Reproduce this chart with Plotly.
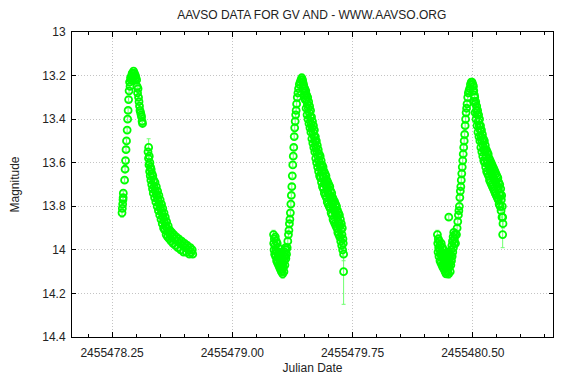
import plotly.graph_objects as go

# ---------------- data: (JD fraction of the day, magnitude, error) ----------------
c1_day = 2455478
c1_rise = [
    (0.312, 13.83, 0.02), (0.314, 13.81, 0.01), (0.316, 13.79, 0.01), (0.318, 13.77, 0.02),
    (0.319, 13.76, 0.01), (0.320, 13.74, 0.01),
    (0.328, 13.68, 0.01), (0.331, 13.63, 0.01), (0.334, 13.59, 0.01), (0.337, 13.54, 0.01),
    (0.340, 13.50, 0.01), (0.344, 13.45, 0.01), (0.347, 13.40, 0.01), (0.350, 13.36, 0.01),
    (0.353, 13.31, 0.01), (0.356, 13.27, 0.01), (0.359, 13.23, 0.01), (0.362, 13.25, 0.01),
    (0.365, 13.21, 0.01), (0.368, 13.22, 0.01), (0.372, 13.20, 0.01), (0.375, 13.19, 0.01),
    (0.378, 13.19, 0.01), (0.381, 13.21, 0.01), (0.384, 13.18, 0.01), (0.387, 13.20, 0.01),
    (0.390, 13.19, 0.01), (0.393, 13.22, 0.01), (0.396, 13.20, 0.01), (0.399, 13.21, 0.01),
    (0.403, 13.22, 0.01), (0.406, 13.25, 0.01),
    (0.409, 13.28, 0.01), (0.412, 13.26, 0.01), (0.415, 13.30, 0.01), (0.418, 13.32, 0.01),
    (0.421, 13.34, 0.01), (0.424, 13.36, 0.01), (0.428, 13.37, 0.01), (0.431, 13.38, 0.01),
    (0.434, 13.39, 0.01), (0.437, 13.41, 0.01), (0.440, 13.42, 0.01),
]
c1_decline = [
    (0.474, 13.55, 0.01), (0.478, 13.53, 0.04), (0.477, 13.58, 0.01),
    (0.480, 13.61, 0.01), (0.482, 13.57, 0.01), (0.484, 13.64, 0.01),
    (0.486, 13.60, 0.01), (0.488, 13.66, 0.01), (0.490, 13.62, 0.01),
    (0.492, 13.68, 0.01), (0.494, 13.63, 0.02), (0.497, 13.70, 0.01),
    (0.499, 13.65, 0.01), (0.502, 13.72, 0.01), (0.504, 13.66, 0.01),
    (0.507, 13.74, 0.01), (0.510, 13.68, 0.01), (0.512, 13.71, 0.03),
    (0.515, 13.76, 0.01), (0.518, 13.69, 0.01), (0.520, 13.73, 0.01),
    (0.523, 13.78, 0.01), (0.526, 13.71, 0.01), (0.528, 13.75, 0.01),
    (0.531, 13.80, 0.02), (0.534, 13.73, 0.01), (0.536, 13.77, 0.01),
    (0.539, 13.82, 0.01), (0.542, 13.75, 0.01), (0.544, 13.79, 0.01),
    (0.547, 13.84, 0.01), (0.550, 13.77, 0.01), (0.552, 13.81, 0.02),
    (0.555, 13.86, 0.01), (0.558, 13.79, 0.01), (0.560, 13.83, 0.01),
    (0.563, 13.88, 0.01), (0.566, 13.81, 0.01), (0.568, 13.85, 0.01),
    (0.571, 13.90, 0.01), (0.574, 13.83, 0.04), (0.576, 13.87, 0.01),
    (0.579, 13.91, 0.01), (0.582, 13.85, 0.01), (0.584, 13.89, 0.01),
    (0.587, 13.93, 0.01), (0.590, 13.87, 0.02), (0.592, 13.90, 0.01),
    (0.596, 13.94, 0.01), (0.600, 13.89, 0.01), (0.603, 13.92, 0.01),
    (0.607, 13.95, 0.01), (0.611, 13.91, 0.01), (0.614, 13.93, 0.01),
    (0.618, 13.96, 0.01), (0.622, 13.92, 0.01), (0.626, 13.94, 0.03),
    (0.630, 13.97, 0.01), (0.635, 13.93, 0.01), (0.640, 13.95, 0.01),
    (0.645, 13.98, 0.01), (0.650, 13.94, 0.01), (0.655, 13.96, 0.01),
    (0.660, 13.99, 0.01), (0.666, 13.95, 0.01), (0.672, 13.97, 0.02),
    (0.678, 14.00, 0.01), (0.684, 13.96, 0.01), (0.690, 13.98, 0.01),
    (0.696, 14.01, 0.01), (0.702, 13.97, 0.01), (0.708, 13.99, 0.01),
    (0.714, 14.01, 0.01), (0.720, 13.98, 0.01), (0.726, 14.00, 0.01),
    (0.732, 14.02, 0.01), (0.738, 13.99, 0.01), (0.744, 14.01, 0.01),
    (0.750, 14.00, 0.01), (0.753, 14.02, 0.01),
]

c2_day = 2455479
c2_min = [
    (0.257, 13.93, 0.02), (0.258, 13.97, 0.01), (0.260, 14.00, 0.01), (0.262, 13.95, 0.01),
    (0.264, 14.02, 0.01), (0.266, 13.98, 0.02), (0.268, 13.94, 0.01), (0.270, 14.03, 0.01),
    (0.272, 14.00, 0.01), (0.274, 13.96, 0.01), (0.276, 14.05, 0.01), (0.278, 14.01, 0.02),
    (0.280, 13.97, 0.01), (0.282, 14.06, 0.01), (0.284, 14.03, 0.01), (0.286, 13.99, 0.01),
    (0.288, 14.07, 0.01), (0.290, 14.04, 0.02), (0.292, 14.01, 0.01), (0.294, 14.08, 0.01),
    (0.296, 14.05, 0.01), (0.298, 14.02, 0.01), (0.300, 14.09, 0.02), (0.302, 14.06, 0.01),
    (0.304, 14.03, 0.01), (0.306, 14.10, 0.01), (0.308, 14.07, 0.01), (0.310, 14.04, 0.01),
    (0.312, 14.09, 0.01), (0.314, 14.11, 0.02), (0.316, 14.06, 0.01), (0.318, 14.08, 0.01),
    (0.320, 14.03, 0.01), (0.322, 14.10, 0.01), (0.324, 14.05, 0.01), (0.326, 14.01, 0.01),
    (0.328, 14.07, 0.01), (0.330, 14.03, 0.01), (0.332, 13.99, 0.01), (0.334, 14.04, 0.01),
    (0.336, 14.00, 0.01),
]
c2_rise = [
    (0.338, 14.02, 0.01), (0.342, 13.99, 0.01), (0.346, 13.96, 0.01), (0.350, 13.93, 0.01),
    (0.353, 13.91, 0.01), (0.356, 13.88, 0.01), (0.359, 13.86, 0.01), (0.362, 13.83, 0.01),
    (0.365, 13.79, 0.01), (0.368, 13.75, 0.01), (0.371, 13.71, 0.01), (0.374, 13.66, 0.01),
    (0.377, 13.61, 0.01), (0.380, 13.57, 0.01), (0.383, 13.53, 0.01), (0.386, 13.48, 0.01),
    (0.389, 13.44, 0.01), (0.392, 13.41, 0.01), (0.395, 13.38, 0.01), (0.398, 13.36, 0.01),
    (0.401, 13.33, 0.01), (0.405, 13.30, 0.01), (0.409, 13.28, 0.01), (0.413, 13.26, 0.01),
    (0.418, 13.24, 0.01), (0.423, 13.23, 0.01), (0.428, 13.22, 0.02), (0.433, 13.21, 0.01),
    (0.438, 13.22, 0.01),
]
c2_decline = [
    (0.440, 13.23, 0.01), (0.442, 13.26, 0.01), (0.444, 13.24, 0.01),
    (0.446, 13.25, 0.01), (0.448, 13.29, 0.01), (0.450, 13.27, 0.01),
    (0.452, 13.26, 0.01), (0.454, 13.31, 0.01), (0.456, 13.29, 0.01),
    (0.458, 13.27, 0.01), (0.460, 13.35, 0.01), (0.462, 13.31, 0.01),
    (0.464, 13.29, 0.01), (0.466, 13.38, 0.01), (0.468, 13.33, 0.01),
    (0.470, 13.30, 0.01), (0.472, 13.40, 0.01), (0.474, 13.35, 0.01),
    (0.476, 13.32, 0.01), (0.478, 13.42, 0.01), (0.480, 13.37, 0.01),
    (0.482, 13.34, 0.01), (0.484, 13.44, 0.01), (0.486, 13.39, 0.02),
    (0.488, 13.36, 0.01), (0.490, 13.46, 0.01), (0.492, 13.42, 0.01),
    (0.494, 13.39, 0.01), (0.496, 13.49, 0.01), (0.498, 13.44, 0.01),
    (0.500, 13.41, 0.01), (0.502, 13.51, 0.01), (0.504, 13.46, 0.01),
    (0.506, 13.43, 0.01), (0.508, 13.53, 0.02), (0.510, 13.48, 0.01),
    (0.512, 13.45, 0.01), (0.514, 13.55, 0.01), (0.516, 13.50, 0.01),
    (0.518, 13.48, 0.01), (0.520, 13.58, 0.01), (0.522, 13.53, 0.01),
    (0.524, 13.50, 0.02), (0.526, 13.60, 0.01), (0.528, 13.55, 0.01),
    (0.530, 13.52, 0.01), (0.532, 13.62, 0.01), (0.534, 13.57, 0.01),
    (0.536, 13.54, 0.01), (0.538, 13.64, 0.02), (0.540, 13.59, 0.01),
    (0.542, 13.56, 0.01), (0.544, 13.66, 0.01), (0.546, 13.61, 0.01),
    (0.548, 13.57, 0.01), (0.550, 13.67, 0.01), (0.552, 13.62, 0.02),
    (0.554, 13.59, 0.01), (0.556, 13.69, 0.01), (0.558, 13.64, 0.01),
    (0.560, 13.61, 0.01), (0.562, 13.71, 0.02), (0.564, 13.66, 0.01),
    (0.566, 13.62, 0.01), (0.568, 13.72, 0.01), (0.570, 13.67, 0.01),
    (0.572, 13.64, 0.02), (0.574, 13.74, 0.01), (0.576, 13.69, 0.01),
    (0.578, 13.65, 0.01), (0.580, 13.75, 0.02), (0.582, 13.70, 0.01),
    (0.584, 13.66, 0.01), (0.586, 13.76, 0.01), (0.588, 13.71, 0.02),
    (0.590, 13.68, 0.01), (0.592, 13.78, 0.01), (0.594, 13.73, 0.01),
    (0.596, 13.69, 0.02), (0.598, 13.79, 0.01), (0.600, 13.74, 0.01),
    (0.602, 13.70, 0.01), (0.604, 13.80, 0.02), (0.606, 13.75, 0.01),
    (0.608, 13.71, 0.01), (0.610, 13.81, 0.01), (0.612, 13.76, 0.02),
    (0.614, 13.73, 0.01), (0.616, 13.83, 0.02), (0.618, 13.78, 0.01),
    (0.620, 13.74, 0.03), (0.622, 13.84, 0.01), (0.624, 13.79, 0.02),
    (0.626, 13.76, 0.01), (0.628, 13.86, 0.02), (0.630, 13.81, 0.01),
    (0.632, 13.77, 0.02), (0.634, 13.87, 0.01), (0.636, 13.82, 0.03),
    (0.638, 13.78, 0.01), (0.640, 13.88, 0.02), (0.642, 13.83, 0.01),
    (0.644, 13.79, 0.02), (0.646, 13.89, 0.02), (0.648, 13.84, 0.01),
    (0.650, 13.80, 0.03), (0.652, 13.90, 0.01), (0.654, 13.85, 0.02),
    (0.656, 13.82, 0.02), (0.658, 13.92, 0.03), (0.660, 13.87, 0.01),
    (0.662, 13.83, 0.02), (0.664, 13.93, 0.02), (0.666, 13.88, 0.02),
    (0.668, 13.84, 0.03), (0.670, 13.94, 0.02), (0.672, 13.89, 0.02),
    (0.674, 13.86, 0.02), (0.676, 13.96, 0.03), (0.678, 13.91, 0.02),
    (0.680, 13.88, 0.03), (0.682, 13.98, 0.02), (0.684, 13.93, 0.03),
    (0.686, 13.90, 0.02), (0.688, 14.00, 0.03), (0.690, 13.95, 0.02),
    (0.692, 13.97, 0.03), (0.694, 14.02, 0.03), (0.694, 14.10, 0.15),
]

c3_day = 2455480
c3_min = [
    (0.279, 13.93, 0.02), (0.281, 13.97, 0.01), (0.283, 14.01, 0.01), (0.285, 13.95, 0.02),
    (0.287, 13.99, 0.01), (0.289, 14.03, 0.01), (0.291, 13.96, 0.01), (0.293, 14.00, 0.02),
    (0.295, 14.05, 0.01), (0.297, 13.98, 0.01), (0.299, 14.02, 0.01), (0.301, 14.06, 0.02),
    (0.303, 13.97, 0.01), (0.305, 14.01, 0.01), (0.307, 14.07, 0.01), (0.309, 14.03, 0.02),
    (0.311, 13.99, 0.01), (0.313, 14.08, 0.01), (0.315, 14.04, 0.01), (0.317, 14.00, 0.01),
    (0.319, 14.06, 0.02), (0.321, 14.09, 0.01), (0.323, 14.02, 0.01), (0.325, 14.05, 0.01),
    (0.327, 14.10, 0.01), (0.329, 14.03, 0.02), (0.331, 14.07, 0.01), (0.333, 14.11, 0.01),
    (0.335, 14.04, 0.01), (0.337, 14.08, 0.01), (0.339, 14.01, 0.01), (0.341, 14.06, 0.02),
    (0.343, 14.10, 0.01), (0.345, 14.03, 0.01), (0.347, 14.07, 0.01), (0.349, 14.11, 0.02),
    (0.351, 14.04, 0.01), (0.353, 14.08, 0.01), (0.355, 14.02, 0.01), (0.357, 14.06, 0.01),
    (0.359, 14.10, 0.02), (0.361, 14.03, 0.01), (0.363, 14.07, 0.01), (0.365, 14.00, 0.01),
    (0.367, 14.05, 0.01), (0.369, 13.98, 0.01), (0.371, 14.03, 0.01), (0.373, 13.96, 0.01),
    (0.375, 14.01, 0.01), (0.377, 13.94, 0.01), (0.379, 13.99, 0.01), (0.381, 13.92, 0.01),
    (0.383, 13.97, 0.01), (0.385, 13.95, 0.01), (0.387, 13.93, 0.01), (0.350, 13.85, 0.01),
]
c3_rise = [
    (0.392, 13.97, 0.01), (0.398, 13.93, 0.01), (0.402, 13.90, 0.01), (0.406, 13.87, 0.01),
    (0.410, 13.84, 0.01), (0.413, 13.82, 0.01), (0.416, 13.80, 0.01), (0.419, 13.76, 0.01),
    (0.422, 13.73, 0.01), (0.425, 13.71, 0.01), (0.428, 13.68, 0.01), (0.431, 13.65, 0.01),
    (0.434, 13.62, 0.01), (0.437, 13.59, 0.01), (0.440, 13.56, 0.01), (0.443, 13.53, 0.01),
    (0.446, 13.50, 0.01), (0.449, 13.47, 0.01), (0.452, 13.43, 0.01), (0.455, 13.40, 0.01),
    (0.458, 13.37, 0.01), (0.461, 13.35, 0.01), (0.464, 13.33, 0.01), (0.468, 13.30, 0.01),
    (0.472, 13.28, 0.01), (0.476, 13.27, 0.01), (0.480, 13.26, 0.01), (0.485, 13.24, 0.01),
    (0.490, 13.23, 0.01), (0.495, 13.23, 0.01),
]
c3_decline = [
    (0.500, 13.24, 0.01), (0.502, 13.27, 0.01), (0.504, 13.25, 0.01),
    (0.506, 13.27, 0.01), (0.508, 13.32, 0.01), (0.510, 13.29, 0.01),
    (0.512, 13.30, 0.01), (0.514, 13.37, 0.01), (0.516, 13.33, 0.01),
    (0.518, 13.32, 0.01), (0.520, 13.40, 0.01), (0.522, 13.36, 0.01),
    (0.524, 13.34, 0.01), (0.526, 13.43, 0.01), (0.528, 13.38, 0.01),
    (0.530, 13.36, 0.01), (0.532, 13.46, 0.01), (0.534, 13.41, 0.01),
    (0.536, 13.38, 0.01), (0.538, 13.48, 0.02), (0.540, 13.43, 0.01),
    (0.542, 13.40, 0.01), (0.544, 13.50, 0.01), (0.546, 13.45, 0.01),
    (0.548, 13.43, 0.01), (0.550, 13.53, 0.01), (0.552, 13.48, 0.02),
    (0.554, 13.45, 0.01), (0.556, 13.55, 0.01), (0.558, 13.50, 0.01),
    (0.560, 13.47, 0.01), (0.562, 13.57, 0.02), (0.564, 13.52, 0.01),
    (0.566, 13.49, 0.01), (0.568, 13.59, 0.01), (0.570, 13.54, 0.02),
    (0.572, 13.50, 0.01), (0.574, 13.60, 0.01), (0.576, 13.55, 0.01),
    (0.578, 13.52, 0.02), (0.580, 13.62, 0.01), (0.582, 13.57, 0.01),
    (0.584, 13.54, 0.01), (0.586, 13.64, 0.02), (0.588, 13.59, 0.01),
    (0.590, 13.55, 0.01), (0.592, 13.65, 0.01), (0.594, 13.60, 0.02),
    (0.596, 13.56, 0.01), (0.598, 13.66, 0.02), (0.600, 13.61, 0.01),
    (0.602, 13.58, 0.02), (0.604, 13.68, 0.01), (0.606, 13.63, 0.02),
    (0.608, 13.59, 0.01), (0.610, 13.69, 0.02), (0.612, 13.64, 0.01),
    (0.614, 13.60, 0.02), (0.616, 13.70, 0.02), (0.618, 13.65, 0.01),
    (0.620, 13.61, 0.03), (0.622, 13.71, 0.02), (0.624, 13.66, 0.02),
    (0.626, 13.62, 0.02), (0.628, 13.72, 0.03), (0.630, 13.67, 0.02),
    (0.632, 13.63, 0.02), (0.634, 13.73, 0.02), (0.636, 13.68, 0.03),
    (0.638, 13.64, 0.02), (0.640, 13.74, 0.02), (0.642, 13.69, 0.02),
    (0.644, 13.65, 0.03), (0.646, 13.75, 0.02), (0.648, 13.70, 0.02),
    (0.650, 13.66, 0.02), (0.652, 13.76, 0.03), (0.654, 13.71, 0.02),
    (0.656, 13.67, 0.02), (0.658, 13.77, 0.02), (0.660, 13.72, 0.03),
    (0.662, 13.69, 0.02), (0.664, 13.79, 0.02), (0.666, 13.74, 0.02),
    (0.668, 13.70, 0.03), (0.670, 13.80, 0.02), (0.672, 13.75, 0.02),
    (0.674, 13.72, 0.02), (0.676, 13.82, 0.03), (0.678, 13.77, 0.02),
    (0.680, 13.75, 0.02), (0.682, 13.85, 0.02), (0.684, 13.80, 0.03),
    (0.686, 13.85, 0.02), (0.688, 13.88, 0.02), (0.686, 13.93, 0.06),
]

title_text = "AAVSO DATA FOR GV AND - WWW.AAVSO.ORG"
x_title = "Julian Date"
y_title = "Magnitude"
x_range = [2455478.0, 2455481.0]
y_range = [14.4, 13.0]

# ---------------- assemble ----------------
segments = [(c1_day, c1_rise), (c1_day, c1_decline),
            (c2_day, c2_min), (c2_day, c2_rise), (c2_day, c2_decline),
            (c3_day, c3_min), (c3_day, c3_rise), (c3_day, c3_decline)]
jd, mag, err = [], [], []
for day, rows in segments:
    for frac, m, e in rows:
        jd.append(day + frac)
        mag.append(m)
        err.append(e)

GREEN = "#00ff00"
fig = go.Figure()
fig.add_trace(go.Scatter(
    x=jd, y=mag, mode="markers",
    marker=dict(symbol="circle-open", size=7, color=GREEN, line=dict(width=1.8, color=GREEN)),
    error_y=dict(type="data", array=err, visible=True, color="#70ff70", thickness=1, width=2),
    showlegend=False, hoverinfo="skip",
))

FONT = "Liberation Sans, Arial, sans-serif"
TXT = "#222222"
axis_common = dict(
    showline=True, linecolor="#000000", linewidth=1, mirror="ticks",
    ticks="inside", tickcolor="#000000",
    showgrid=True, gridcolor="#c4c4c4", griddash="1px,2px", gridwidth=1,
    zeroline=False, automargin=False,
    tickfont=dict(family=FONT, size=12, color=TXT),
)
fig.update_xaxes(
    range=x_range, tickmode="linear", tick0=2455478.25, dtick=0.75, tickformat=".2f",
    ticklen=5, ticklabelstandoff=5,
    minor=dict(dtick=0.15, tick0=2455478.25, ticks="inside", ticklen=3, tickcolor="#000000", showgrid=False),
    title=dict(text=x_title, font=dict(family=FONT, size=12, color=TXT), standoff=4),
    **axis_common,
)
fig.update_yaxes(
    range=y_range, tickmode="linear", tick0=13.0, dtick=0.2, ticklen=4, ticklabelstandoff=3,
    title=dict(text=y_title, font=dict(family=FONT, size=12, color=TXT), standoff=21),
    **axis_common,
)
# the page body adds an 8 px offset, so the figure is 8 px smaller on each side
fig.update_layout(
    width=572, height=372,
    margin=dict(l=64, r=27, t=24, b=43),
    paper_bgcolor="#ffffff", plot_bgcolor="#ffffff",
    title=dict(text=title_text, x=0.531, xanchor="center", y=0.982, yanchor="middle",
               font=dict(family=FONT, size=12, color=TXT)),
)
fig.write_html("out.html")
